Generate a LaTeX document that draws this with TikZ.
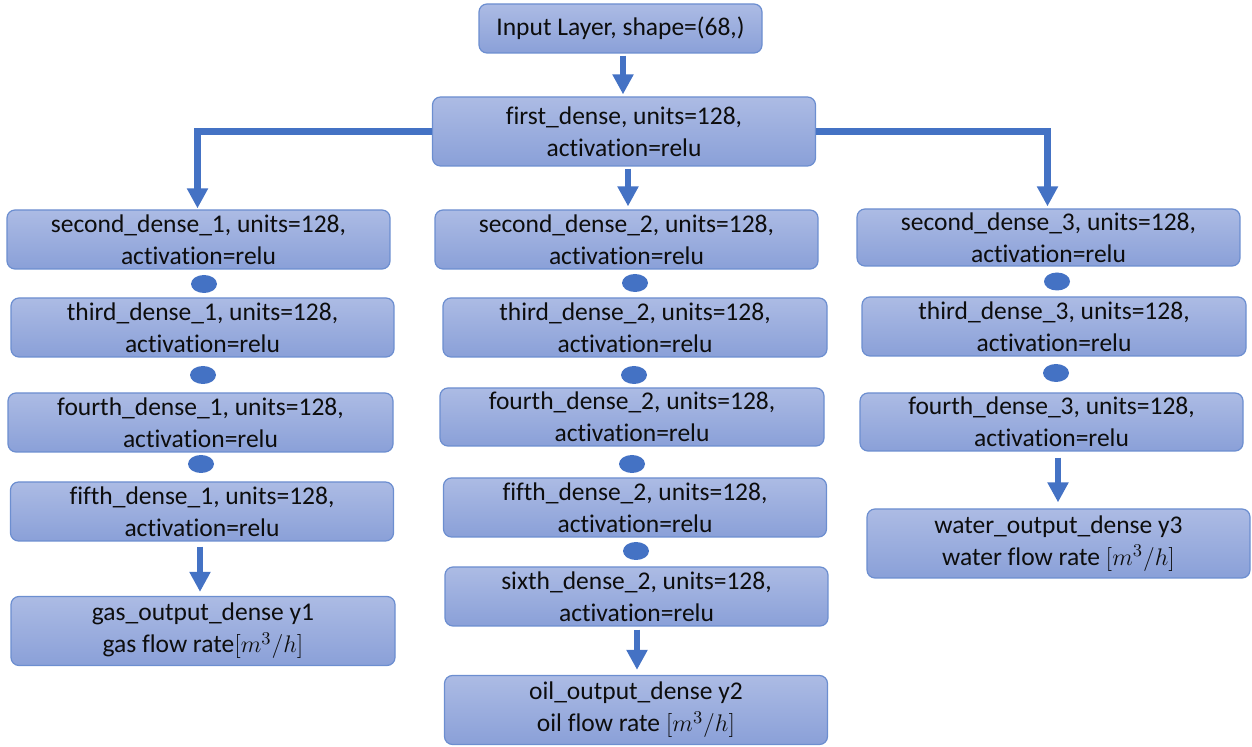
\documentclass[tikz,border=0pt]{standalone}
\usepackage{fontspec}
\setmainfont{Carlito}[Ligatures={NoCommon,NoRare}]
\usetikzlibrary{arrows.meta,shapes.geometric}
\definecolor{bluA}{RGB}{68,114,196}
\definecolor{topC}{RGB}{172,187,228}
\definecolor{botC}{RGB}{138,160,216}
\definecolor{edgeC}{RGB}{108,142,208}
\tikzset{
  layer/.style={draw=edgeC, line width=0.6pt, rounded corners=4pt, top color=topC, bottom color=botC,
    align=center, inner sep=0pt, text=black!95, font=\fontsize{12.75}{16}\selectfont,
    minimum width=191.5pt, minimum height=29.5pt},
  outbox/.style={layer, minimum height=34.5pt},
  dot/.style={ellipse, fill=bluA, draw=none, minimum width=13pt, minimum height=9pt, inner sep=0pt},
  arr/.style={draw=bluA, line width=3.3pt, -{Triangle[width=10pt,length=10pt]}},
}
\begin{document}
\begin{tikzpicture}[x=0.5pt,y=-0.5pt]
\useasboundingbox (0,0) rectangle (1252,747);
% top
\node[layer, minimum width=141.5pt, minimum height=24.5pt] (in) at (620.5,28.5) {Input Layer, shape=(68,)};
\node[layer, minimum height=34.5pt] (first) at (624,131.5) {first\_dense, units=128,\\activation=relu};
% column 1
\node[layer] (s1) at (198.5,239.5) {second\_dense\_1, units=128,\\activation=relu};
\node[layer] (t1) at (202.5,327.5) {third\_dense\_1, units=128,\\activation=relu};
\node[layer, minimum width=192.5pt] (f1) at (200.5,422.5) {fourth\_dense\_1, units=128,\\activation=relu};
\node[layer] (v1) at (202,511.5) {fifth\_dense\_1, units=128,\\activation=relu};
\node[outbox, minimum width=192pt] (g) at (203,631) {gas\_output\_dense y1\\gas flow rate$[m^3/h]$};
% column 2
\node[layer] (s2) at (626.5,239.5) {second\_dense\_2, units=128,\\activation=relu};
\node[layer, minimum width=192pt] (t2) at (635,327.5) {third\_dense\_2, units=128,\\activation=relu};
\node[layer, minimum width=192pt, minimum height=29pt] (f2) at (632,417) {fourth\_dense\_2, units=128,\\activation=relu};
\node[layer] (v2) at (635,507.5) {fifth\_dense\_2, units=128,\\activation=relu};
\node[layer] (x2) at (636.5,596.5) {sixth\_dense\_2, units=128,\\activation=relu};
\node[outbox] (o) at (636,710) {oil\_output\_dense y2\\oil flow rate $[m^3/h]$};
% column 3
\node[layer, minimum height=28.5pt] (s3) at (1048.5,237.5) {second\_dense\_3, units=128,\\activation=relu};
\node[layer, minimum width=192pt] (t3) at (1054,326.5) {third\_dense\_3, units=128,\\activation=relu};
\node[layer, minimum height=29pt] (f3) at (1051.5,422) {fourth\_dense\_3, units=128,\\activation=relu};
\node[outbox] (w) at (1058.5,543.5) {water\_output\_dense y3\\water flow rate $[m^3/h]$};
% dots
\node[dot] (d1a) at (204,284) {};
\node[dot] (d1b) at (203,375) {};
\node[dot] (d1c) at (201,464) {};
\node[dot] (d2a) at (635,283) {};
\node[dot] (d2b) at (634,375) {};
\node[dot] (d2c) at (632,464) {};
\node[dot] (d2d) at (636,551) {};
\node[dot] (d3a) at (1057,281.5) {};
\node[dot] (d3b) at (1056,373) {};
% arrow columns
\coordinate (ax0) at (623,0);
\coordinate (ax2) at (628,0);
\coordinate (ax1) at (200,0);
\coordinate (ax4) at (637,0);
\coordinate (ax5) at (1058,0);
\coordinate (b1) at (197.5,131.5);
\coordinate (b3) at (1047.5,131.5);
% arrows
\draw[arr, shorten <=1pt, shorten >=1pt] (in.south -| ax0) -- (first.north -| ax0);
\draw[arr, shorten <=1pt, shorten >=1.5pt] (first.south -| ax2) -- (s2.north -| ax2);
\draw[arr, shorten >=0.5pt] (first.west) -- (b1) -- (s1.north -| b1);
\draw[arr, shorten >=1pt] (first.east) -- (b3) -- (s3.north -| b3);
\draw[arr, shorten <=2.5pt, shorten >=2pt] (v1.south -| ax1) -- (g.north -| ax1);
\draw[arr, shorten <=1.5pt, shorten >=2.5pt] (x2.south -| ax4) -- (o.north -| ax4);
\draw[arr, shorten <=3pt, shorten >=3pt] (f3.south -| ax5) -- (w.north -| ax5);
\end{tikzpicture}
\end{document}
